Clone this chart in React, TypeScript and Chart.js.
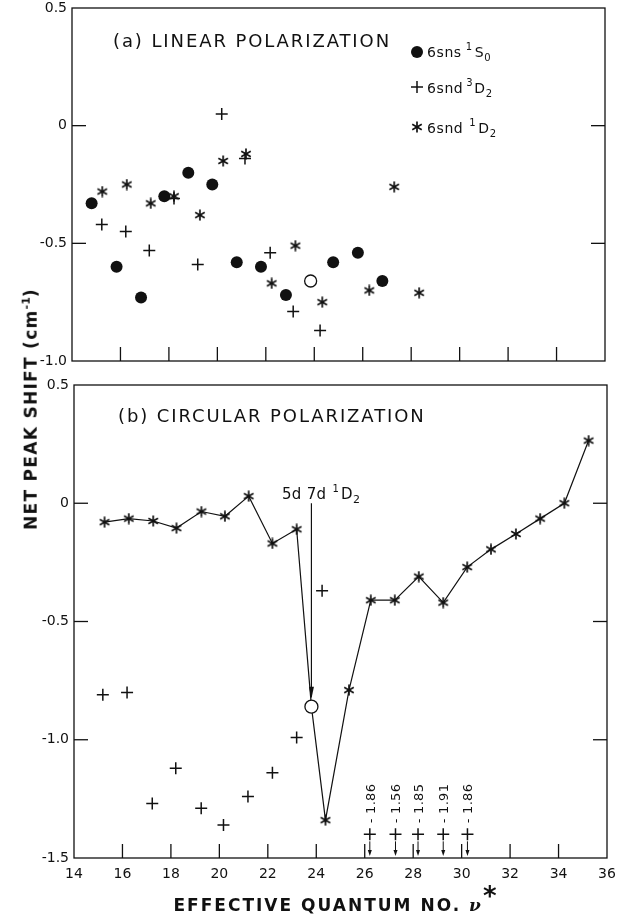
import { useEffect, useRef } from "react";
import { Chart, registerables } from "chart.js";

Chart.register(...registerables);

const FONT = '"DejaVu Sans", "Liberation Sans", sans-serif';
const INK = "#111";

const X_MIN = 14;
const X_MAX = 36;
const X_TICK_MARKS = [16, 18, 20, 22, 24, 26, 28, 30, 32, 34];

// (a) linear polarization
const linSnsX = [14.81, 15.84, 16.85, 17.81, 18.8, 19.79, 20.8, 21.8, 22.83, 24.78, 25.8, 26.81];
const linSnsY = [-0.33, -0.6, -0.73, -0.3, -0.2, -0.25, -0.58, -0.6, -0.72, -0.58, -0.54, -0.66];
const linPerturberX = [23.85];
const linPerturberY = [-0.66];
const lin3D2X = [15.23, 16.22, 17.19, 18.21, 19.19, 20.18, 21.14, 22.18, 23.13, 24.24];
const lin3D2Y = [-0.42, -0.45, -0.53, -0.31, -0.59, 0.05, -0.14, -0.54, -0.79, -0.87];
const lin1D2X = [15.25, 16.26, 17.25, 18.21, 19.28, 20.24, 21.18, 22.24, 23.22, 24.33, 26.27, 27.3, 28.33];
const lin1D2Y = [-0.28, -0.25, -0.33, -0.3, -0.38, -0.15, -0.12, -0.67, -0.51, -0.75, -0.7, -0.26, -0.71];

// (b) circular polarization
const circ1D2X = [15.26, 16.26, 17.27, 18.23, 19.26, 20.23, 21.21, 22.19, 23.19, 23.8, 24.38, 25.35, 26.25, 27.24, 28.23, 29.24, 30.23, 31.21, 32.24, 33.24, 34.24, 35.24];
const circ1D2Y = [-0.08, -0.065, -0.075, -0.105, -0.035, -0.055, 0.03, -0.17, -0.11, -0.86, -1.34, -0.79, -0.41, -0.41, -0.31, -0.42, -0.27, -0.195, -0.13, -0.065, 0.0, 0.265];
const PERTURBER_INDEX = 9; // 5d7d 1D2 level, drawn as an open circle
const circ3D2X = [15.19, 16.19, 17.23, 18.2, 19.25, 20.17, 21.18, 22.19, 23.19, 24.24];
const circ3D2Y = [-0.81, -0.8, -1.27, -1.12, -1.29, -1.36, -1.24, -1.14, -0.99, -0.37];
// 3D2 shifts beyond the axis range: shown at the floor with an arrow and the value
const offScaleX = [26.21, 27.27, 28.2, 29.24, 30.24];
const offScaleY = [-1.86, -1.56, -1.85, -1.91, -1.86];

const Y_A = { min: -1.0, max: 0.5, marks: [0, -0.5] };
const Y_B = { min: -1.5, max: 0.5, marks: [0, -0.5, -1.0] };
const OFFSCALE_FLOOR = Y_B.min + 0.1;

const pts = (xs: number[], ys: number[]) => xs.map((x, i) => ({ x, y: ys[i] }));

function makeStar(size = 12, lw = 1.7): HTMLCanvasElement {
  const c = document.createElement("canvas");
  c.width = size;
  c.height = size;
  const g = c.getContext("2d")!;
  g.strokeStyle = INK;
  g.lineWidth = lw;
  const r = size / 2 - 0.5;
  const cx = size / 2;
  const cy = size / 2;
  for (const deg of [90, 30, 150]) {
    const a = (deg * Math.PI) / 180;
    g.beginPath();
    g.moveTo(cx - r * Math.cos(a), cy - r * Math.sin(a));
    g.lineTo(cx + r * Math.cos(a), cy + r * Math.sin(a));
    g.stroke();
  }
  return c;
}

type Piece = { t: string; size: number; dy?: number; gap?: number };

function drawPieces(ctx: CanvasRenderingContext2D, x: number, y: number, pieces: Piece[]) {
  let cx = x;
  for (const p of pieces) {
    ctx.font = `${p.size}px ${FONT}`;
    ctx.fillText(p.t, cx, y + (p.dy || 0));
    cx += ctx.measureText(p.t).width + (p.gap || 0);
  }
}

function line(ctx: CanvasRenderingContext2D, x1: number, y1: number, x2: number, y2: number) {
  ctx.beginPath();
  ctx.moveTo(x1, y1);
  ctx.lineTo(x2, y2);
  ctx.stroke();
}

function arrowHead(ctx: CanvasRenderingContext2D, x: number, tipY: number, w: number, len: number) {
  ctx.beginPath();
  ctx.moveTo(x, tipY);
  ctx.lineTo(x - w / 2, tipY - len);
  ctx.lineTo(x + w / 2, tipY - len);
  ctx.closePath();
  ctx.fill();
}

// Box frame with inward tick marks on bottom, left and right
const framePlugin = {
  id: "frame",
  afterDatasetsDraw(chart: any, _args: any, opts: any) {
    const { ctx, chartArea: a, scales } = chart;
    const xs = scales.x;
    const ys = scales.y;
    ctx.save();
    ctx.strokeStyle = INK;
    ctx.lineWidth = 1.3;
    ctx.strokeRect(a.left, a.top, a.right - a.left, a.bottom - a.top);
    for (const v of X_TICK_MARKS) {
      const px = xs.getPixelForValue(v);
      line(ctx, px, a.bottom, px, a.bottom - 14);
    }
    for (const v of opts.yMarks || []) {
      const py = ys.getPixelForValue(v);
      line(ctx, a.left, py, a.left + 14, py);
      line(ctx, a.right, py, a.right - 14, py);
    }
    ctx.restore();
  },
};

function panelTitle(ctx: CanvasRenderingContext2D, text: string, x: number, y: number) {
  (ctx as any).letterSpacing = "1.9px";
  ctx.font = `18px ${FONT}`;
  ctx.textAlign = "left";
  ctx.fillText(text, x, y);
  (ctx as any).letterSpacing = "0px";
}

function makePanelAPlugin(star: HTMLCanvasElement) {
  return {
    id: "panelA",
    afterDraw(chart: any) {
      const { ctx, chartArea: a } = chart;
      ctx.save();
      ctx.fillStyle = INK;
      ctx.strokeStyle = INK;
      ctx.textBaseline = "alphabetic";
      panelTitle(ctx, "(a) LINEAR POLARIZATION", a.left + 41, a.top + 39);
      (ctx as any).letterSpacing = "0.6px";

      const mx = a.left + 345;
      const tx = a.left + 355;
      // filled circle row
      ctx.beginPath();
      ctx.arc(mx, a.top + 44, 6, 0, Math.PI * 2);
      ctx.fill();
      drawPieces(ctx, tx, a.top + 49, [
        { t: "6sns", size: 14, gap: 4 },
        { t: "1", size: 10, dy: -7, gap: 2 },
        { t: "S", size: 14 },
        { t: "0", size: 10, dy: 4 },
      ]);
      // plus row
      ctx.lineWidth = 1.5;
      line(ctx, mx - 6, a.top + 79, mx + 6, a.top + 79);
      line(ctx, mx, a.top + 73, mx, a.top + 85);
      drawPieces(ctx, tx, a.top + 85, [
        { t: "6snd", size: 14, gap: 3 },
        { t: "3", size: 10, dy: -7, gap: 1 },
        { t: "D", size: 14 },
        { t: "2", size: 10, dy: 4 },
      ]);
      // asterisk row
      ctx.drawImage(star, mx - star.width / 2, a.top + 119 - star.height / 2);
      drawPieces(ctx, tx, a.top + 125, [
        { t: "6snd", size: 14, gap: 6 },
        { t: "1", size: 10, dy: -7, gap: 2 },
        { t: "D", size: 14 },
        { t: "2", size: 10, dy: 4 },
      ]);
      ctx.restore();
    },
  };
}

const panelBPlugin = {
  id: "panelB",
  afterDraw(chart: any) {
    const { ctx, chartArea: a, scales } = chart;
    const xs = scales.x;
    const ys = scales.y;
    ctx.save();
    ctx.fillStyle = INK;
    ctx.strokeStyle = INK;
    panelTitle(ctx, "(b) CIRCULAR POLARIZATION", a.left + 44, a.top + 37);
    (ctx as any).letterSpacing = "0.3px";

    // 5d7d 1D2 perturber marker
    const ax = xs.getPixelForValue(circ1D2X[PERTURBER_INDEX]);
    const y0 = ys.getPixelForValue(0);
    const yc = ys.getPixelForValue(circ1D2Y[PERTURBER_INDEX]);
    ctx.lineWidth = 1.2;
    line(ctx, ax, y0, ax, yc - 10);
    arrowHead(ctx, ax, yc - 8, 5, 12);
    ctx.font = `15px ${FONT}`;
    ctx.textAlign = "right";
    ctx.fillText("5d 7d", ax + 15, y0 - 4);
    ctx.textAlign = "left";
    drawPieces(ctx, ax + 21, y0 - 4, [
      { t: "1", size: 10, dy: -7, gap: 2 },
      { t: "D", size: 15 },
      { t: "2", size: 11, dy: 4 },
    ]);

    // off-scale 3D2 values
    ctx.font = `13px ${FONT}`;
    for (let i = 0; i < offScaleX.length; i++) {
      const px = xs.getPixelForValue(offScaleX[i]);
      const py = ys.getPixelForValue(OFFSCALE_FLOOR);
      ctx.lineWidth = 1;
      line(ctx, px, py + 7, px, a.bottom - 6);
      arrowHead(ctx, px, a.bottom - 2, 4, 6);
      ctx.save();
      ctx.translate(px + 5, py - 11);
      ctx.rotate(-Math.PI / 2);
      ctx.textAlign = "left";
      ctx.fillText(offScaleY[i].toFixed(2).replace("-", "- "), 0, 0);
      ctx.restore();
    }
    ctx.restore();
  },
};

const tickFont = { family: FONT, size: 14 };
const yLabel = (v: number | string) => (Number(v) === 0 ? "0" : Number(v).toFixed(1));

function baseOptions(yr: { min: number; max: number; marks: number[] }, axisWidth: number, showX: boolean, xHeight: number, pad: any) {
  return {
    responsive: false,
    maintainAspectRatio: false,
    animation: false as const,
    events: [] as any[],
    layout: { padding: pad },
    plugins: {
      legend: { display: false },
      tooltip: { enabled: false },
      frame: { yMarks: yr.marks },
    },
    scales: {
      x: {
        type: "linear" as const,
        min: X_MIN,
        max: X_MAX,
        grid: { display: false, drawTicks: false },
        border: { display: false },
        ticks: { display: showX, stepSize: 2, color: INK, font: tickFont, padding: 8, maxRotation: 0 },
        afterFit: (s: any) => {
          s.height = xHeight;
          s.paddingLeft = 0;
          s.paddingRight = 0;
        },
      },
      y: {
        type: "linear" as const,
        min: yr.min,
        max: yr.max,
        grid: { display: false, drawTicks: false },
        border: { display: false },
        ticks: { stepSize: 0.5, color: INK, font: tickFont, padding: 5, callback: yLabel },
        afterFit: (s: any) => {
          s.width = axisWidth;
          s.paddingTop = 0;
          s.paddingBottom = 0;
        },
      },
    },
  };
}

export default function App() {
  const topRef = useRef<HTMLCanvasElement>(null);
  const botRef = useRef<HTMLCanvasElement>(null);

  useEffect(() => {
    const star = makeStar(12, 1.7);

    const top = new Chart(topRef.current!, {
      type: "scatter",
      data: {
        datasets: [
          {
            label: "6sns 1S0",
            data: pts(linSnsX, linSnsY),
            pointStyle: "circle",
            pointRadius: 6,
            pointBackgroundColor: INK,
            pointBorderColor: INK,
            pointBorderWidth: 0,
          },
          {
            label: "5d7d 1D2",
            data: pts(linPerturberX, linPerturberY),
            pointStyle: "circle",
            pointRadius: 6,
            pointBackgroundColor: "#fff",
            pointBorderColor: INK,
            pointBorderWidth: 1.3,
          },
          {
            label: "6snd 3D2",
            data: pts(lin3D2X, lin3D2Y),
            pointStyle: "cross",
            pointRadius: 6,
            pointBorderColor: INK,
            pointBorderWidth: 1.5,
          },
          {
            label: "6snd 1D2",
            data: pts(lin1D2X, lin1D2Y),
            pointStyle: star as any,
            pointRadius: 6,
          },
        ],
      },
      options: baseOptions(Y_A, 72, false, 14, { left: 0, right: 23, top: 8, bottom: 0 }) as any,
      plugins: [framePlugin, makePanelAPlugin(star)],
    });

    const lineStyles = circ1D2X.map((_, i) => (i === PERTURBER_INDEX ? "circle" : star));
    const bot = new Chart(botRef.current!, {
      type: "scatter",
      data: {
        datasets: [
          {
            label: "6snd 1D2",
            data: pts(circ1D2X, circ1D2Y),
            showLine: true,
            borderColor: INK,
            borderWidth: 1.2,
            pointStyle: lineStyles as any,
            pointRadius: 6.5,
            pointBackgroundColor: circ1D2X.map((_, i) => (i === PERTURBER_INDEX ? "#fff" : INK)),
            pointBorderColor: INK,
            pointBorderWidth: 1.3,
          },
          {
            label: "6snd 3D2",
            data: pts(circ3D2X, circ3D2Y),
            pointStyle: "cross",
            pointRadius: 6,
            pointBorderColor: INK,
            pointBorderWidth: 1.5,
          },
          {
            label: "6snd 3D2 (off scale)",
            data: pts(offScaleX, offScaleY.map((v) => Math.max(v, OFFSCALE_FLOOR))),
            pointStyle: "cross",
            pointRadius: 6,
            pointBorderColor: INK,
            pointBorderWidth: 1.5,
          },
        ],
      },
      options: baseOptions(Y_B, 74, true, 57, { left: 0, right: 21, top: 10, bottom: 0 }) as any,
      plugins: [framePlugin, panelBPlugin],
    });

    return () => {
      top.destroy();
      bot.destroy();
    };
  }, []);

  return (
    <div style={{ position: "absolute", left: 0, top: 0, width: 628, height: 915, background: "#fff", overflow: "hidden" }}>
      <canvas ref={topRef} width={628} height={375} style={{ position: "absolute", left: 0, top: 0, width: 628, height: 375 }} />
      <canvas ref={botRef} width={628} height={540} style={{ position: "absolute", left: 0, top: 375, width: 628, height: 540 }} />
      <div
        style={{
          position: "absolute",
          left: 30,
          top: 409,
          transform: "translate(-50%, -50%) rotate(-90deg)",
          whiteSpace: "nowrap",
          fontFamily: FONT,
          fontWeight: "bold",
          fontSize: 17,
          letterSpacing: "1.3px",
          color: INK,
        }}
      >
        NET PEAK SHIFT (cm<sup style={{ fontSize: 11, letterSpacing: 0 }}>-1</sup>)
      </div>
      <div
        style={{
          position: "absolute",
          left: 336,
          top: 902,
          transform: "translate(-50%, -50%)",
          whiteSpace: "nowrap",
          fontFamily: FONT,
          fontWeight: "bold",
          fontSize: 17,
          letterSpacing: "2px",
          color: INK,
          lineHeight: 1,
        }}
      >
        EFFECTIVE QUANTUM NO.{" "}
        <span style={{ fontStyle: "italic", fontFamily: '"DejaVu Serif", serif' }}>ν</span>
        <span style={{ fontSize: 26, fontWeight: "bold", position: "relative", top: -6 }}>*</span>
      </div>
    </div>
  );
}
